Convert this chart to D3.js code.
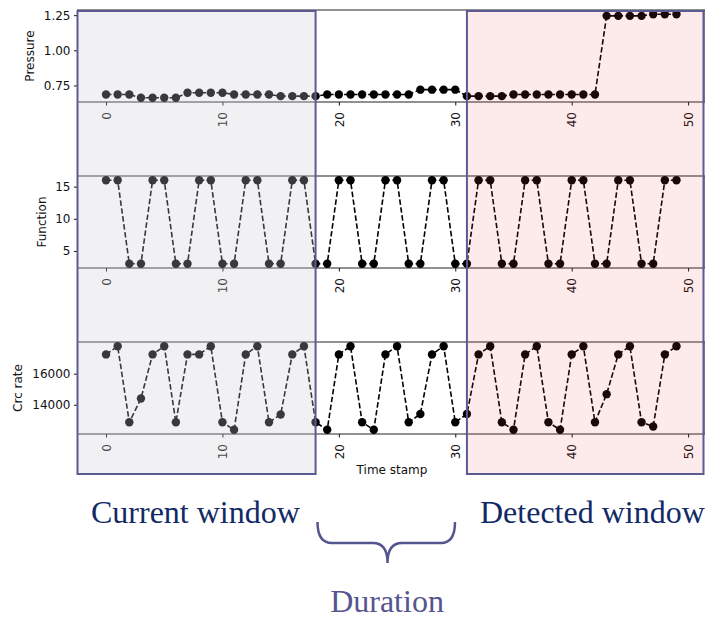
<!DOCTYPE html>
<html>
<head>
<meta charset="utf-8">
<script src="https://cdn.jsdelivr.net/npm/d3@7"></script>
<style>
  body { margin: 0; background: #fff; }
  svg { display: block; }
</style>
</head>
<body>
<div id="chart"></div>
<script>
// data
var timeStamps = [0,1,2,3,4,5,6,7,8,9,10,11,12,13,14,15,16,17,18,19,20,21,22,23,24,
                  25,26,27,28,29,30,31,32,33,34,35,36,37,38,39,40,41,42,43,44,45,46,47,48,49];

var pressure = [0.686,0.686,0.686,0.662,0.662,0.662,0.662,0.698,0.698,0.698,
                0.698,0.686,0.686,0.686,0.686,0.674,0.674,0.674,0.674,0.686,
                0.686,0.686,0.686,0.686,0.686,0.686,0.686,0.720,0.720,0.720,
                0.720,0.674,0.674,0.674,0.674,0.686,0.686,0.686,0.686,0.686,
                0.686,0.686,0.686,1.245,1.245,1.245,1.245,1.257,1.257,1.257];

var functionCode = [16,16,3,3,16,16,3,3,16,16,3,3,16,16,3,3,16,16,3,3,
                    16,16,3,3,16,16,3,3,16,16,3,3,16,16,3,3,16,16,3,3,
                    16,16,3,3,16,16,3,3,16,16];

var crcRate = [17240,17770,12870,14400,17240,17770,12870,17240,17240,17770,
               12870,12385,17240,17770,12870,13370,17240,17770,12870,12385,
               17240,17770,12870,12385,17240,17770,12870,13400,17240,17770,
               12870,13400,17240,17770,12870,12385,17240,17770,12870,12385,
               17240,17770,12870,14680,17240,17770,12870,12600,17240,17770];

var xTicks = [0, 10, 20, 30, 40, 50];
var pressureTicks = [0.75, 1.00, 1.25];
var functionTicks = [5, 10, 15];
var crcTicks = [14000, 16000];

var currentWindowEnd = 18;
var detectedWindowStart = 31;

// layout
var width = 705, height = 620;
var plotLeft = 77.5, plotRight = 705;
var panelH = 92;

var panels = [
  {label: "Pressure", values: pressure, ticks: pressureTicks, fmt: d3.format(".2f"), top: 10, labelX: 30},
  {label: "Function", values: functionCode, ticks: functionTicks, fmt: d3.format("d"), top: 176, labelX: 42},
  {label: "Crc rate", values: crcRate, ticks: crcTicks, fmt: d3.format("d"), top: 342, labelX: 17.5}
];

// matplotlib style 5% margins
function padExtent(vals) {
  var e = d3.extent(vals), m = (e[1] - e[0]) * 0.05;
  return [e[0] - m, e[1] + m];
}

var x = d3.scaleLinear().domain(padExtent(timeStamps)).range([plotLeft, plotRight]);

var svg = d3.select("#chart").append("svg")
    .attr("width", width)
    .attr("height", height);

var tickFont = "'DejaVu Sans', sans-serif";

panels.forEach(function(p) {
  var y = d3.scaleLinear().domain(padExtent(p.values)).range([p.top + panelH, p.top]);
  var g = svg.append("g");

  // spines
  g.append("rect")
      .attr("x", plotLeft)
      .attr("y", p.top)
      .attr("width", plotRight - plotLeft)
      .attr("height", panelH)
      .attr("fill", "none")
      .attr("stroke", "#222")
      .attr("stroke-width", 1);

  var yAxis = g.append("g")
      .attr("transform", "translate(" + plotLeft + ",0)")
      .call(d3.axisLeft(y).tickValues(p.ticks).tickFormat(p.fmt).tickSize(3.5).tickPadding(3.5));
  yAxis.select(".domain").remove();
  yAxis.selectAll("text").style("font-family", tickFont).style("font-size", "12px").attr("fill", "#111");
  yAxis.selectAll("line").attr("stroke", "#111");

  var xAxis = g.append("g")
      .attr("transform", "translate(0," + (p.top + panelH) + ")")
      .call(d3.axisBottom(x).tickValues(xTicks).tickSize(3.5));
  xAxis.select(".domain").remove();
  xAxis.selectAll("line").attr("stroke", "#111");
  xAxis.selectAll("text")
      .style("font-family", tickFont)
      .style("font-size", "12px")
      .attr("fill", "#111")
      .attr("transform", "rotate(-90)")
      .attr("text-anchor", "end")
      .attr("x", -10)
      .attr("y", 0)
      .attr("dy", "0.35em");

  g.append("text")
      .attr("transform", "translate(" + p.labelX + "," + (p.top + panelH / 2) + ") rotate(-90)")
      .attr("text-anchor", "middle")
      .attr("dy", "0.35em")
      .style("font-family", tickFont)
      .style("font-size", "12px")
      .attr("fill", "#111")
      .text(p.label);

  var line = d3.line()
      .x(function(d, i) { return x(timeStamps[i]); })
      .y(function(d) { return y(d); });

  g.append("path")
      .datum(p.values)
      .attr("d", line)
      .attr("fill", "none")
      .attr("stroke", "#000")
      .attr("stroke-width", 1.6)
      .attr("stroke-dasharray", "5.5,2.5");

  g.selectAll("circle")
      .data(p.values)
      .enter().append("circle")
      .attr("cx", function(d, i) { return x(timeStamps[i]); })
      .attr("cy", function(d) { return y(d); })
      .attr("r", 4.2)
      .attr("fill", "#000");
});

svg.append("text")
    .attr("x", 392)
    .attr("y", 474)
    .attr("text-anchor", "middle")
    .style("font-family", tickFont)
    .style("font-size", "12px")
    .attr("fill", "#111")
    .text("Time stamp");

// window overlays
var winTop = 11, winBottom = 474;
svg.append("rect")
    .attr("x", plotLeft)
    .attr("y", winTop)
    .attr("width", x(currentWindowEnd) - plotLeft)
    .attr("height", winBottom - winTop)
    .attr("fill", "rgb(205,205,212)")
    .attr("fill-opacity", 0.28)
    .attr("stroke", "#5b5b92")
    .attr("stroke-width", 2);

svg.append("rect")
    .attr("x", x(detectedWindowStart))
    .attr("y", winTop)
    .attr("width", 703.5 - x(detectedWindowStart))
    .attr("height", winBottom - winTop)
    .attr("fill", "rgb(238,60,60)")
    .attr("fill-opacity", 0.11)
    .attr("stroke", "#5b5b92")
    .attr("stroke-width", 2);

// annotations
var serif = "'Liberation Serif', 'Times New Roman', serif";
svg.append("text")
    .attr("x", 91)
    .attr("y", 523)
    .style("font-family", serif)
    .style("font-size", "32px")
    .attr("fill", "#112a66")
    .text("Current window");

svg.append("text")
    .attr("x", 480)
    .attr("y", 523)
    .style("font-family", serif)
    .style("font-size", "32px")
    .attr("fill", "#112a66")
    .text("Detected window");

svg.append("path")
    .attr("d", "M317.5,522 Q317.5,543 332,543 L373,543 Q387.5,543 387.5,563 Q387.5,543 402,543 L441,543 Q455,543 455,522")
    .attr("fill", "none")
    .attr("stroke", "#55558f")
    .attr("stroke-width", 2.5);

svg.append("text")
    .attr("x", 387)
    .attr("y", 612)
    .attr("text-anchor", "middle")
    .style("font-family", serif)
    .style("font-size", "32px")
    .attr("fill", "#55558f")
    .text("Duration");
</script>
</body>
</html>
